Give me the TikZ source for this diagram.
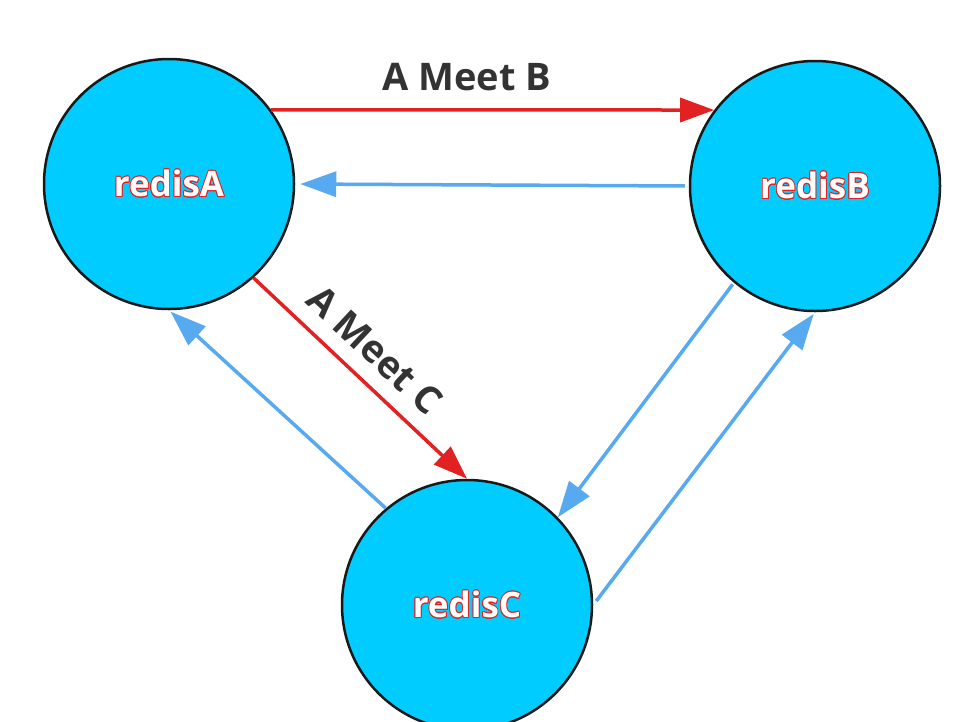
\documentclass[tikz,border=0pt]{standalone}
\usepackage{fontspec}
\setmainfont{Open Sans}
\usepackage{contour}
\usetikzlibrary{arrows.meta}
\contourlength{0.8pt}
\definecolor{nodecyan}{RGB}{0,204,255}
\definecolor{linkblue}{RGB}{88,170,240}
\definecolor{meetred}{RGB}{226,34,34}
\definecolor{labelgray}{RGB}{51,51,51}
\tikzset{
    redis/.style={circle, draw=black!90, line width=2.5pt, fill=nodecyan, minimum size=250pt, inner sep=0pt,
        font=\fontsize{35}{40}\selectfont\bfseries},
    meet/.style={meetred, line width=3.5pt, -{Triangle[length=34pt, width=24pt]}},
    reply/.style={linkblue, line width=3.5pt, -{Triangle[length=36pt, width=25pt]}},
    meetlabel/.style={text=labelgray, font=\fontsize{38}{44}\selectfont\bfseries}
}
\newcommand{\redisname}[1]{\contour{meetred}{\textcolor{white}{#1}}}
\begin{document}
\begin{tikzpicture}[x=1pt, y=-1pt]
        \useasboundingbox [fill=white] (0, 0) rectangle (956, 721);
        \node [redis] (A) at (169, 184) {\redisname{redisA}};
        \node [redis] (B) at (815, 186) {\redisname{redisB}};
        \node [redis] (C) at (467, 605) {\redisname{redisC}};
        % meet messages
        \draw [meet] (A.36) -- (B.143);
        \draw [meet] (A.-48) -- (C.north);
        % replies
        \draw [reply, shorten <=4pt, shorten >=5pt] (B.west) -- (A.east);
        \draw [reply, shorten >=2pt] (C.130) -- (A.south);
        \draw [reply, shorten <=2pt] (B.-130) -- (C.44);
        \draw [reply, shorten <=5pt, shorten >=2pt] (C.east) -- (B.south);
        \node [meetlabel] (ab) at (467, 77) {A Meet B};
        \node [meetlabel, rotate=-43] (ac) at (375, 350) {A Meet C};
    \end{tikzpicture}
\end{document}
